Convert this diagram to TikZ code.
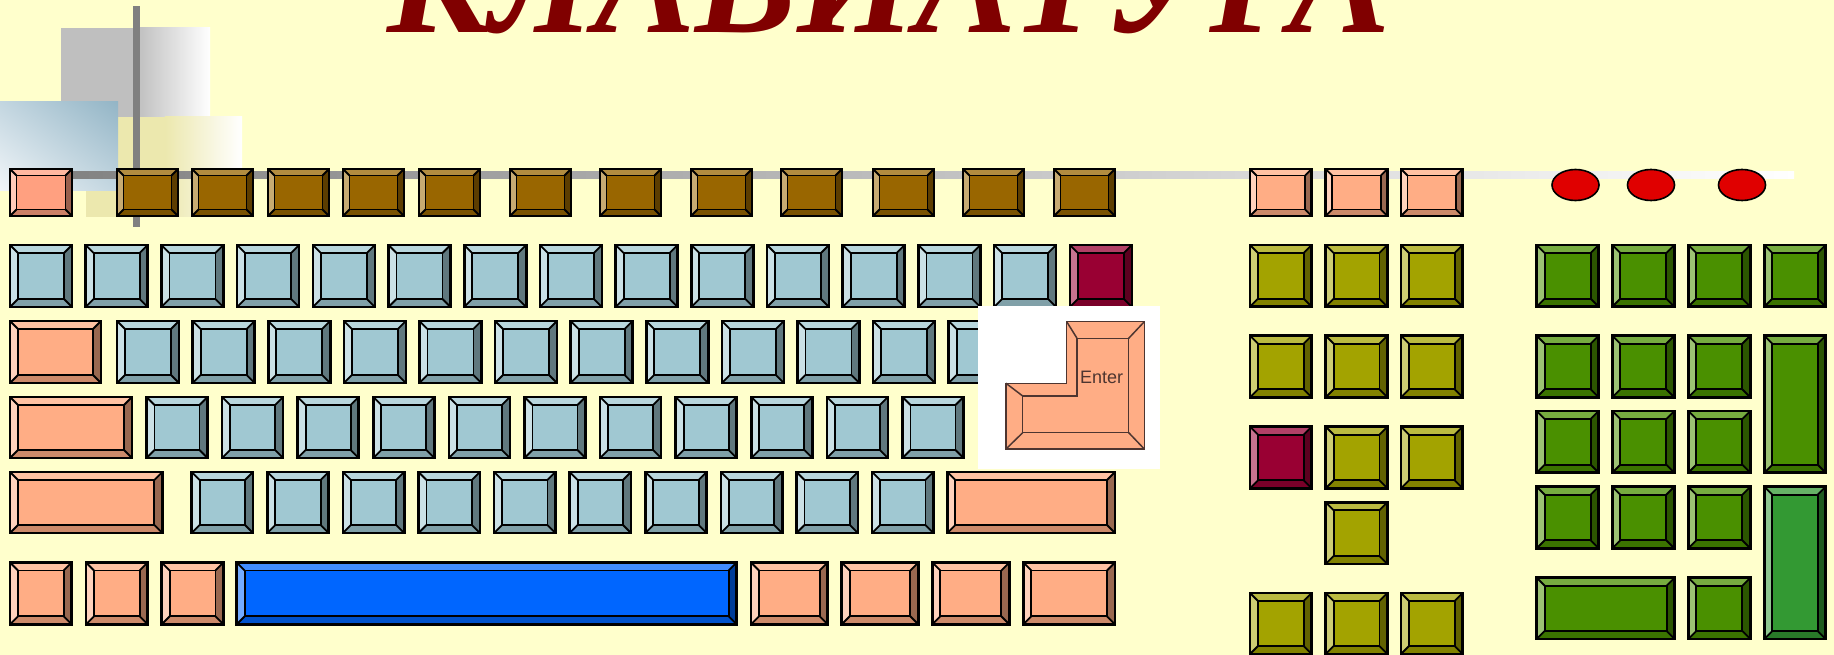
\documentclass[tikz,border=0pt]{standalone}
\usepackage{graphicx}
\usepackage{fontspec}
\usetikzlibrary{shadings}
\newfontfamily\titlefont{Liberation Serif}
\newfontfamily\labelfont{Liberation Sans}

\definecolor{paper}{HTML}{FFFFCC}
\definecolor{titlered}{HTML}{800000}
\definecolor{keyblue}{HTML}{A0C8D2}
\definecolor{keysalmon}{HTML}{FFA080}
\definecolor{keyorange}{HTML}{FFAD85}
\definecolor{keybrown}{HTML}{996600}
\definecolor{keyred}{HTML}{990033}
\definecolor{keyolive}{HTML}{A3A300}
\definecolor{keygreen}{HTML}{4A9000}
\definecolor{keydkgreen}{HTML}{339933}
\definecolor{keyspace}{HTML}{0066FF}
\definecolor{ledred}{HTML}{E00000}
\definecolor{bargrey}{HTML}{808080}
\definecolor{panelgrey}{HTML}{BFBFBF}
\definecolor{panelyellow}{HTML}{ECE8AE}
\definecolor{panelblue}{HTML}{93B5C6}
\definecolor{panelpale}{HTML}{F2F6F9}
\definecolor{panelmid}{HTML}{C3D6E0}
\definecolor{enterink}{HTML}{4D3530}

% bevelled key: \keycap[bevel]{x1}{y1}{x2}{y2}{colour}
\newcommand{\keycap}[6][8]{%
  \fill[#6!75!white] (#2,#3) -- (#4,#3) -- ({#4-#1},{#3+#1}) -- ({#2+#1},{#3+#1}) -- cycle;
  \fill[#6!55!white] (#2,#3) -- ({#2+#1},{#3+#1}) -- ({#2+#1},{#5-#1}) -- (#2,#5) -- cycle;
  \fill[#6!60!black] (#4,#3) -- (#4,#5) -- ({#4-#1},{#5-#1}) -- ({#4-#1},{#3+#1}) -- cycle;
  \fill[#6!80!black] (#2,#5) -- (#4,#5) -- ({#4-#1},{#5-#1}) -- ({#2+#1},{#5-#1}) -- cycle;
  \fill[#6] ({#2+#1},{#3+#1}) rectangle ({#4-#1},{#5-#1});
  \draw[keyline] ({#2+#1},{#3+#1}) rectangle ({#4-#1},{#5-#1});
  \draw[keyline] (#2,#3) -- ({#2+#1},{#3+#1}) (#4,#3) -- ({#4-#1},{#3+#1})
    (#4,#5) -- ({#4-#1},{#5-#1}) (#2,#5) -- ({#2+#1},{#5-#1});
  \draw[keyedge] (#2,#3) rectangle (#4,#5);}

\begin{document}
\begin{tikzpicture}[x=1pt,y=-1pt,
    keyline/.style={line width=1.8pt,black},
    keyedge/.style={line width=2.6pt,black,line join=miter},
    enterline/.style={line width=1.5pt,draw=enterink}]
  \useasboundingbox (0,0) rectangle (1834,655);
  \clip (0,0) rectangle (1834,655);
  \fill[paper] (0,0) rectangle (1834,655);

  % corner decoration
  \fill[panelgrey] (61,28) rectangle (138,117);
  \shade[left color=panelgrey,right color=white] (137,28) rectangle (210,117);
  \fill[panelyellow] (86,117) rectangle (166,217);
  \shade[left color=panelyellow,right color=white] (165,117) rectangle (242,217);
  \shade[upper right=panelblue,lower left=panelpale,
    upper left=panelmid,lower right=panelmid]
    (0,102) rectangle (118,191);
  \fill[bargrey] (133,6) rectangle (140,227);
  \shade[left color=bargrey,right color=white] (40,172) rectangle (1794,178.5);

  % title
  \node[anchor=base west,inner sep=0,text=titlered] (title) at (387,33)
    {\resizebox{1003pt}{!}{\titlefont\bfseries\itshape КЛАВИАТУРА}};

  % function row
  \keycap[6.5]{10}{169}{72}{216}{keysalmon}
  \foreach \x in {117,192,268,343,419,510,600,691,781,873,963,1054}
    {\keycap[6.5]{\x}{169}{\x+61}{216}{keybrown}}
  \foreach \x in {1250,1325.7,1401}
    {\keycap[6.5]{\x}{169}{\x+61.7}{216}{keyorange}}

  % indicator lamps
  \foreach \x [count=\n] in {1575.5,1651,1742}
    \draw[line width=1.6pt,fill=ledred] (\x,185) ellipse [x radius=23.5,y radius=15.5];

  % digit row
  \foreach \i in {0,...,13}
    {\keycap{10+75.7*\i}{245}{72+75.7*\i}{307}{keyblue}}
  \keycap{1069.8}{245}{1131.8}{307}{keyred}

  % letter rows
  \keycap{10}{321}{101}{383}{keyorange}
  \foreach \i in {0,...,11}
    {\keycap{117+75.6*\i}{321}{179+75.6*\i}{383}{keyblue}}
  \keycap{10}{397}{132}{458}{keyorange}
  \foreach \i in {0,...,10}
    {\keycap{146.5+75.6*\i}{397}{207.5+75.6*\i}{458}{keyblue}}
  \keycap{10}{472}{162.3}{533}{keyorange}
  \foreach \i in {0,...,9}
    {\keycap{191.7+75.6*\i}{472}{253+75.6*\i}{533}{keyblue}}
  \keycap{947.3}{472}{1115}{533}{keyorange}

  % bottom row
  \foreach \x in {10,86,161.7}
    {\keycap{\x}{562.5}{\x+61.7}{624.3}{keyorange}}
  \keycap{236.7}{562.5}{736.7}{624.3}{keyspace}
  \keycap{751}{562.5}{827.7}{624.3}{keyorange}
  \keycap{841.7}{562.5}{918.3}{624.3}{keyorange}
  \keycap{932.3}{562.5}{1009.3}{624.3}{keyorange}
  \keycap{1023.3}{562.5}{1115}{624.3}{keyorange}

  % enter key
  \fill[white] (978.3,306) rectangle (1160,469.3);
  \filldraw[enterline,fill=keyorange] (1066.7,321.7) -- (1144.3,321.7) -- (1144.3,449)
    -- (1006,449) -- (1006,383.3) -- (1066.7,383.3) -- cycle;
  \draw[enterline] (1077,338.3) -- (1128.7,338.3) -- (1128.7,432.7)
    -- (1022.7,432.7) -- (1022.7,396) -- (1077,396) -- cycle;
  \draw[enterline] (1066.7,321.7) -- (1077,338.3) (1144.3,321.7) -- (1128.7,338.3)
    (1144.3,449) -- (1128.7,432.7) (1006,449) -- (1022.7,432.7)
    (1006,383.3) -- (1022.7,396);
  \node[anchor=base west,inner sep=0,text=enterink,
    font=\labelfont\fontsize{18}{18}\selectfont] (enterlabel) at (1080,383) {Enter};

  % navigation block
  \foreach \x in {1250,1325.7,1401}
    {\keycap{\x}{245}{\x+61.7}{306.7}{keyolive}
     \keycap{\x}{335.7}{\x+61.7}{397.3}{keyolive}
     \keycap{\x}{593}{\x+61.7}{654}{keyolive}}
  \keycap{1250}{426.7}{1311.7}{488.3}{keyred}
  \keycap{1325.7}{426.7}{1387.4}{488.3}{keyolive}
  \keycap{1401}{426.7}{1462.7}{488.3}{keyolive}
  \keycap{1325.7}{502.3}{1387.4}{564}{keyolive}

  % numeric keypad
  \foreach \x in {1536.7,1612.3,1688.3}
    {\keycap{\x}{245}{\x+62}{306.7}{keygreen}
     \keycap{\x}{335.7}{\x+62}{397.3}{keygreen}
     \keycap{\x}{411}{\x+62}{472.7}{keygreen}
     \keycap{\x}{486.7}{\x+62}{548.3}{keygreen}}
  \keycap{1764.3}{245}{1825.7}{306.7}{keygreen}
  \keycap{1764.3}{335.7}{1825.7}{472.7}{keygreen}
  \keycap{1764.3}{486.7}{1825.7}{639}{keydkgreen}
  \keycap{1536.7}{577.7}{1674.7}{639}{keygreen}
  \keycap{1688.3}{577.7}{1750.3}{639}{keygreen}
\end{tikzpicture}
\end{document}
